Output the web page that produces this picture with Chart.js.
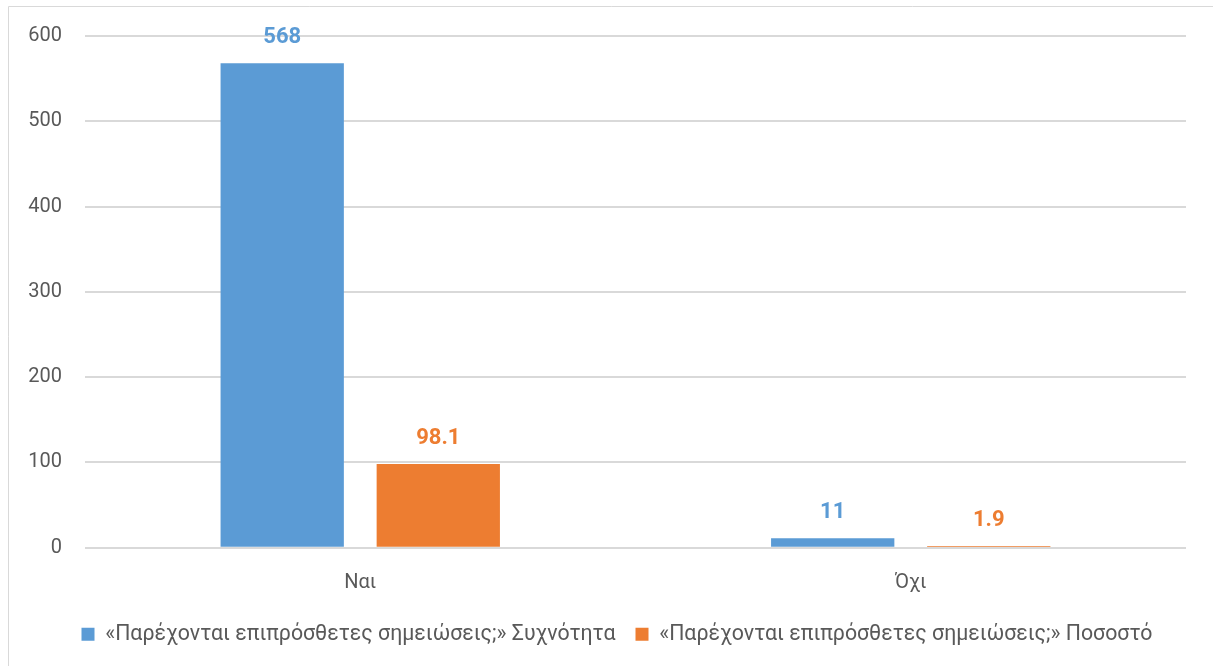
<!DOCTYPE html>
<html>
<head>
<meta charset="utf-8">
<script src="https://cdn.jsdelivr.net/npm/chart.js@4.4.1/dist/chart.umd.min.js"></script>
<style>
  html, body { margin: 0; padding: 0; background: #fff; }
  #wrap { width: 1213px; height: 666px; position: relative; }
</style>
</head>
<body>
<div id="wrap"><canvas id="barChart" width="1213" height="666"></canvas></div>
<script>
// データ
const categories = ['Ναι', 'Όχι'];
const freqValues = [568, 11];      // Συχνότητα
const pctValues = [98.1, 1.9];      // Ποσοστό
const seriesNames = [
    '«Παρέχονται επιπρόσθετες σημειώσεις;» Συχνότητα',
    '«Παρέχονται επιπρόσθετες σημειώσεις;» Ποσοστό'
];
const yTicks = [0, 100, 200, 300, 400, 500, 600];

const FONT = 'Roboto';
const TEXT = '#595959';

// 棒の上に値を描く
const valueLabels = {
    id: 'valueLabels',
    afterDatasetsDraw(chart) {
        const ctx = chart.ctx;
        ctx.save();
        ctx.font = 'bold 22px ' + FONT;
        ctx.textAlign = 'center';
        ctx.textBaseline = 'middle';
        chart.data.datasets.forEach((ds, i) => {
            chart.getDatasetMeta(i).data.forEach((bar, j) => {
                ctx.fillStyle = ds.backgroundColor;
                ctx.fillText(String(ds.data[j]), bar.x, bar.y - 26);
            });
        });
        ctx.restore();
    }
};

// 外枠
const frame = {
    id: 'frame',
    beforeDraw(chart) {
        const ctx = chart.ctx;
        ctx.save();
        ctx.strokeStyle = '#D9D9D9';
        ctx.lineWidth = 1;
        ctx.beginPath();
        ctx.moveTo(8.5, 700);
        ctx.lineTo(8.5, 6.5);
        ctx.lineTo(1300, 6.5);
        ctx.stroke();
        ctx.restore();
    }
};

// 凡例を少し右へ（キャンバス中央寄せ）
const legendShift = {
    id: 'legendShift',
    afterLayout(chart) {
        if (chart.legend) {
            chart.legend.left += 24;
            chart.legend.right += 24;
        }
    }
};

const ctx = document.getElementById('barChart').getContext('2d');
const barChart = new Chart(ctx, {
    type: 'bar',
    data: {
        labels: categories,
        datasets: [{
            label: seriesNames[0],
            data: freqValues,
            backgroundColor: '#5B9BD5'
        }, {
            label: seriesNames[1],
            data: pctValues,
            backgroundColor: '#ED7D31'
        }]
    },
    options: {
        responsive: false,
        animation: false,
        layout: { padding: { top: 36, right: 27, bottom: 11, left: 0 } },
        categoryPercentage: 0.567,
        barPercentage: 0.79,
        plugins: {
            legend: {
                position: 'bottom',
                labels: {
                    boxWidth: 13,
                    boxHeight: 13,
                    color: TEXT,
                    font: { family: FONT, size: 21.3 },
                    padding: 20
                }
            },
            tooltip: { enabled: false }
        },
        scales: {
            x: {
                grid: { display: false },
                border: { display: false },
                ticks: { color: TEXT, font: { family: FONT, size: 20 }, padding: 15 },
                afterFit(scale) { scale.height = 56; }
            },
            y: {
                min: 0,
                max: 600,
                afterBuildTicks(scale) { scale.ticks = yTicks.map(v => ({ value: v })); },
                grid: { color: '#D9D9D9', lineWidth: 2, drawTicks: false },
                border: { display: false },
                ticks: { color: TEXT, font: { family: FONT, size: 20 }, padding: 23 },
                afterFit(scale) { scale.width = 85; }
            }
        }
    },
    plugins: [frame, legendShift, valueLabels]
});
</script>
</body>
</html>
